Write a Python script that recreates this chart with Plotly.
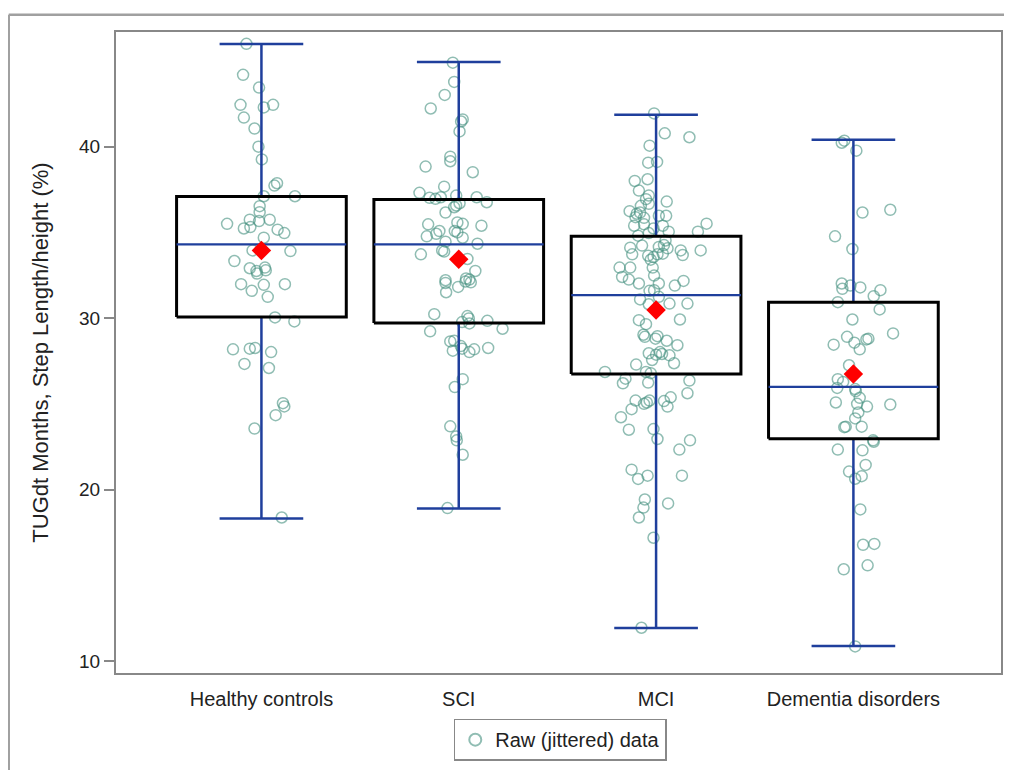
import plotly.graph_objects as go

categories = ["Healthy controls", "SCI", "MCI", "Dementia disorders"]

# Box statistics
q1 = [30.06, 29.71, 26.74, 22.97]
median = [34.30, 34.30, 31.34, 25.99]
q3 = [37.09, 36.92, 34.77, 30.93]
whisk_lo = [18.31, 18.90, 11.92, 10.87]
whisk_hi = [45.99, 44.94, 41.86, 40.41]
means = [33.95, 33.43, 30.47, 26.74]

# Raw (jittered) data: values and jitter offsets
healthy_y = [46.0, 44.19, 43.45, 42.44, 42.29, 42.44, 41.70, 41.06, 40.0, 39.26, 37.87, 37.73, 37.11, 37.11,
             36.53, 36.18, 35.50, 35.74, 35.66, 35.74, 35.23, 35.31, 35.16, 34.96, 34.69, 33.95, 33.91, 33.33,
             32.91, 32.95, 32.75, 32.6, 32.79, 31.98, 31.59, 31.94, 31.98, 31.24, 30.04, 29.81, 28.18, 28.22,
             28.26, 28.02, 27.33, 27.09, 25.04, 24.85, 24.34, 23.56, 18.37]
healthy_jit = [-0.076, -0.093, -0.012, -0.106, 0.012, 0.059, -0.089, -0.035, -0.015, 0.002, 0.079, 0.066, 0.170,
               0.012, -0.009, -0.009, -0.174, -0.059, -0.012, 0.042, -0.089, -0.056, 0.082, 0.116, 0.012, -0.045,
               0.147, -0.137, -0.059, 0.018, -0.025, -0.022, 0.022, -0.103, -0.049, 0.012, 0.119, 0.032, 0.069,
               0.167, -0.144, -0.059, -0.032, 0.049, -0.086, 0.038, 0.109, 0.116, 0.072, -0.035, 0.103]

sci_y = [44.9, 43.78, 43.02, 42.23, 41.59, 41.47, 40.89, 39.42, 39.15, 38.84, 38.51, 37.67, 37.31, 37.02, 36.96,
         37.05, 37.15, 37.05, 36.76, 36.70, 36.47, 36.57, 36.16, 35.47, 35.58, 35.5, 35.39, 35.08, 35.08, 35.0,
         34.77, 34.92, 34.69, 34.46, 34.34, 33.95, 33.88, 33.72, 33.45, 32.75, 32.21, 32.31, 32.25, 32.05, 32.13,
         32.09, 31.51, 31.82, 30.23, 30.12, 29.98, 29.77, 29.69, 29.84, 29.38, 29.23, 28.64, 28.68, 28.37, 28.10,
         28.22, 28.02, 28.18, 28.26, 26.44, 25.98, 23.69, 23.1, 22.87, 22.03, 18.92]
sci_jit = [-0.030, -0.023, -0.071, -0.142, 0.020, 0.012, 0.004, -0.043, -0.043, -0.168, 0.071, -0.074, -0.199,
           -0.148, -0.118, -0.091, -0.013, 0.091, 0.142, 0.004, -0.023, -0.013, -0.067, -0.155, -0.007, 0.020,
           0.115, -0.098, -0.020, -0.007, -0.162, -0.114, 0.020, -0.067, 0.095, -0.084, -0.074, -0.192, 0.044,
           0.084, -0.067, 0.037, 0.054, -0.067, 0.034, 0.061, -0.064, -0.003, -0.124, 0.044, 0.051, 0.017, 0.054,
           0.145, 0.222, -0.145, -0.043, -0.023, 0.010, -0.030, 0.017, 0.054, 0.078, 0.149, 0.020, -0.020, -0.043,
           -0.013, -0.010, 0.020, -0.057]

mci_y = [41.94, 40.78, 40.55, 40.06, 39.07, 39.11, 38.0, 38.1, 37.44, 37.15, 36.94, 36.80, 36.55, 36.67, 36.24,
         36.09, 36.16, 35.89, 35.85, 35.97, 35.97, 35.39, 35.47, 35.39, 35.51, 35.23, 35.04, 35.04, 34.81, 34.96,
         34.53, 34.23, 34.11, 33.72, 34.15, 34.26, 34.07, 33.76, 33.95, 33.68, 33.95, 33.64, 33.56, 33.72, 33.41,
         32.95, 32.95, 32.95, 32.40, 32.25, 32.48, 32.02, 32.02, 32.17, 31.90, 31.59, 31.63, 31.09, 31.24, 30.85,
         30.85, 30.81, 29.88, 29.65, 29.92, 29.03, 28.91, 28.95, 28.80, 28.68, 28.42, 27.95, 27.87, 28.02, 27.91,
         27.83, 27.56, 27.37, 27.29, 26.86, 26.86, 26.79, 26.47, 26.20, 26.24, 26.36, 25.62, 25.19, 25.0, 25.08,
         25.19, 25.16, 25.38, 24.84, 24.69, 24.22, 23.49, 23.53, 22.95, 22.87, 22.33, 21.16, 20.62, 20.81, 20.81,
         19.42, 18.95, 19.19, 18.37, 17.19, 11.94]
mci_jit = [-0.010, 0.044, 0.169, -0.033, -0.040, 0.005, -0.108, -0.043, -0.087, -0.037, -0.051, 0.054, -0.077,
           -0.037, -0.134, -0.098, -0.081, -0.104, -0.061, 0.014, 0.051, -0.111, -0.061, 0.034, 0.256, -0.013,
           0.064, 0.212, -0.091, -0.037, 0.048, -0.071, -0.131, -0.121, 0.014, 0.040, 0.058, 0.034, 0.125, 0.135,
           0.226, -0.040, -0.013, 0.007, -0.027, -0.185, -0.131, -0.017, -0.172, -0.138, -0.010, -0.087, 0.014,
           0.139, 0.095, -0.033, -0.010, -0.081, 0.014, 0.068, 0.159, -0.037, -0.087, -0.051, 0.121, -0.064,
           -0.057, 0.007, -0.003, 0.054, 0.108, -0.037, 0.0, 0.020, 0.030, 0.068, -0.020, 0.091, -0.101, -0.259,
           -0.051, -0.027, -0.155, -0.168, -0.040, 0.169, 0.159, -0.104, -0.061, -0.047, -0.033, 0.040, 0.074,
           0.058, -0.124, -0.178, -0.138, -0.013, 0.007, 0.172, 0.118, -0.124, -0.091, -0.043, 0.131, -0.057,
           -0.064, 0.061, -0.087, -0.013, -0.074]

dem_y = [40.35, 40.23, 39.77, 36.16, 36.32, 34.77, 34.03, 32.02, 31.71, 31.90, 31.79, 31.63, 31.28, 30.93, 30.51,
         29.92, 29.11, 28.91, 28.45, 28.57, 28.76, 28.80, 28.18, 27.25, 26.44, 26.28, 25.93, 25.86, 25.74, 25.35,
         25.08, 25.0, 24.84, 24.96, 24.50, 24.15, 23.64, 23.67, 23.67, 22.87, 22.79, 22.33, 22.29, 21.44, 21.05,
         20.78, 20.63, 18.84, 16.78, 16.83, 15.58, 15.35, 10.85]
dem_jit = [-0.046, -0.059, 0.015, 0.046, 0.187, -0.093, -0.005, -0.059, -0.056, -0.015, 0.035, 0.137, 0.103,
           -0.079, 0.133, -0.005, 0.201, -0.032, -0.100, 0.005, 0.066, 0.076, 0.032, -0.022, -0.079, -0.052,
           -0.082, 0.009, 0.012, 0.032, -0.089, 0.019, 0.069, 0.187, 0.025, 0.009, -0.046, -0.039, 0.042, 0.100,
           0.103, -0.079, 0.046, 0.062, -0.022, 0.042, 0.009, 0.035, 0.049, 0.106, 0.072, -0.049, 0.009]

raw_y = [healthy_y, sci_y, mci_y, dem_y]
raw_jit = [healthy_jit, sci_jit, mci_jit, dem_jit]

BOX_HALF = 0.43
CAP_HALF = 0.212
BLUE = "#1f3f9c"
TEAL = "rgba(70,145,128,0.6)"
TEXT = "#222222"
FONT = "Liberation Sans, Arial, sans-serif"

fig = go.Figure()

# jittered raw points
px, py = [], []
for i, (ys, js) in enumerate(zip(raw_y, raw_jit)):
    for y, j in zip(ys, js):
        px.append(i + j)
        py.append(y)
fig.add_trace(go.Scatter(
    x=px, y=py, mode="markers", name="Raw (jittered) data",
    marker=dict(symbol="circle-open", size=11, color=TEAL, line=dict(width=1.5, color=TEAL)),
    showlegend=True,
))

# whiskers (vertical lines)
wx, wy = [], []
for i in range(len(categories)):
    wx += [i, i, None, i, i, None]
    wy += [whisk_lo[i], q1[i], None, q3[i], whisk_hi[i], None]
fig.add_trace(go.Scatter(x=wx, y=wy, mode="lines", line=dict(color=BLUE, width=2.5),
                         showlegend=False, hoverinfo="skip"))

# whisker caps
cx, cy = [], []
for i in range(len(categories)):
    cx += [i - CAP_HALF, i + CAP_HALF, None, i - CAP_HALF, i + CAP_HALF, None]
    cy += [whisk_lo[i], whisk_lo[i], None, whisk_hi[i], whisk_hi[i], None]
fig.add_trace(go.Scatter(x=cx, y=cy, mode="lines", line=dict(color=BLUE, width=2.5),
                         showlegend=False, hoverinfo="skip"))

# boxes
bx, by = [], []
for i in range(len(categories)):
    l, r = i - BOX_HALF, i + BOX_HALF
    bx += [l, r, r, l, l, None]
    by += [q1[i], q1[i], q3[i], q3[i], q1[i], None]
fig.add_trace(go.Scatter(x=bx, y=by, mode="lines", line=dict(color="black", width=3),
                         showlegend=False, hoverinfo="skip"))

# medians
mx, my = [], []
for i in range(len(categories)):
    mx += [i - BOX_HALF, i + BOX_HALF, None]
    my += [median[i], median[i], None]
fig.add_trace(go.Scatter(x=mx, y=my, mode="lines", line=dict(color=BLUE, width=2.2),
                         showlegend=False, hoverinfo="skip"))

# means
fig.add_trace(go.Scatter(x=list(range(len(categories))), y=means, mode="markers",
                         marker=dict(symbol="diamond", size=15, color="#ff0000"),
                         showlegend=False))

fig.update_layout(
    width=1004, height=762,
    margin=dict(l=108, r=9, t=24, b=92),
    paper_bgcolor="white", plot_bgcolor="white",
    font=dict(family=FONT, color=TEXT, size=19),
    legend=dict(x=0.502, y=-0.104, xanchor="center", yanchor="middle",
                bordercolor="#888888", borderwidth=1.5, font=dict(size=20, color=TEXT),
                itemsizing="constant", tracegroupgap=0, itemwidth=30),
    shapes=[
        dict(type="line", xref="paper", yref="paper", x0=-0.1212, x1=1.2, y0=1.027, y1=1.027,
             line=dict(color="#a0a0a0", width=2.5)),
        dict(type="line", xref="paper", yref="paper", x0=-0.1212, x1=-0.1212, y0=1.027, y1=-0.3,
             line=dict(color="#a0a0a0", width=2.5)),
    ],
)
fig.update_xaxes(
    range=[-0.737, 3.748], tickmode="array", tickvals=list(range(len(categories))), ticktext=categories,
    showgrid=False, zeroline=False, showline=True, mirror=True, linecolor="#888888", linewidth=2,
    ticks="", tickfont=dict(size=20, color=TEXT), ticklabelstandoff=7,
)
fig.update_yaxes(
    range=[9.30, 46.69], tickvals=[10, 20, 30, 40], showgrid=False, zeroline=False,
    showline=True, mirror=True, linecolor="#888888", linewidth=2,
    ticks="outside", ticklen=10, tickcolor="#888888", tickwidth=1.5,
    tickfont=dict(size=19, color=TEXT),
    title=dict(text="TUGdt Months, Step Length/height (%)", font=dict(size=22, color=TEXT), standoff=24),
)

fig.write_html("out.html")
